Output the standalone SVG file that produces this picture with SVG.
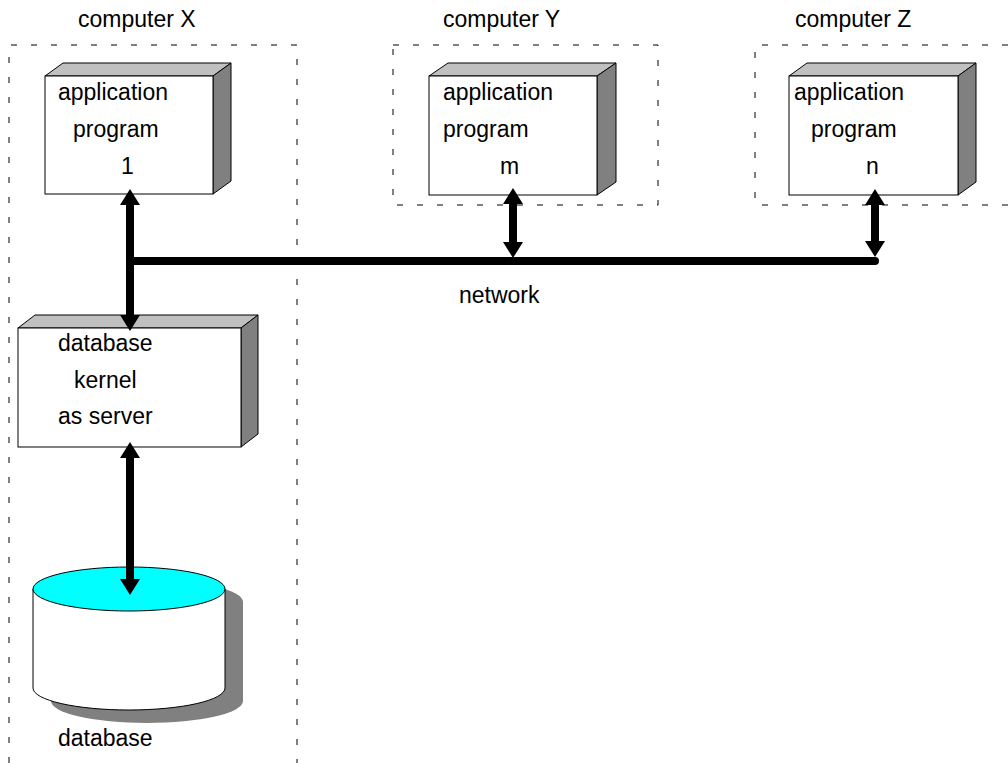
<svg xmlns="http://www.w3.org/2000/svg" width="1008" height="763" viewBox="0 0 1008 763">
<style>
text{font-family:"Liberation Sans",Arial,sans-serif;font-size:23px;fill:#000}
.dash{fill:none;stroke:#000;stroke-width:1;stroke-dasharray:6 14}
.front{fill:#fff;stroke:#000;stroke-width:1}
.top{fill:#c0c0c0;stroke:#000;stroke-width:1;stroke-linejoin:round}
.side{fill:#808080;stroke:#000;stroke-width:1;stroke-linejoin:round}
.conn{stroke:#000;stroke-width:8;fill:none}
</style>
<defs>
<marker id="ah" viewBox="0 0 16 20" refX="4" refY="10" markerWidth="16" markerHeight="20" markerUnits="userSpaceOnUse" orient="auto-start-reverse">
<path d="M0,0 L16,10 L0,20 Z" fill="#000"/>
</marker>
</defs>
<rect width="1008" height="763" fill="#fff"/>

<g id="computerX">
<path class="dash" d="M9,763 L9,45 L297,45 L297,763"/>
<text x="78" y="27">computer X</text>
</g>
<g id="computerY">
<rect class="dash" x="393" y="45" width="265" height="160"/>
<text x="443" y="27">computer Y</text>
</g>
<g id="computerZ">
<path class="dash" d="M1008,45 L755,45 L755,205 L1008,205"/>
<text x="795" y="27">computer Z</text>
</g>

<g id="app1">
<polygon class="top" points="45,76 63,63 231,63 213,76"/>
<polygon class="side" points="213,76 231,63 231,181 213,194"/>
<rect class="front" x="45" y="76" width="168" height="118"/>
<text x="58" y="100">application</text>
<text x="73" y="137">program</text>
<text x="121" y="174">1</text>
</g>

<g id="appm">
<polygon class="top" points="429,76 448,63 616,63 597,76"/>
<polygon class="side" points="597,76 616,63 616,182 597,195"/>
<rect class="front" x="429" y="76" width="168" height="119"/>
<text x="443" y="100">application</text>
<text x="443" y="137">program</text>
<text x="500" y="174">m</text>
</g>

<g id="appn">
<polygon class="top" points="789,76 807,63 976,63 958,76"/>
<polygon class="side" points="958,76 976,63 976,182 958,195"/>
<rect class="front" x="789" y="76" width="169" height="119"/>
<text x="794" y="100">application</text>
<text x="811" y="137">program</text>
<text x="866" y="174">n</text>
</g>

<g id="kernel">
<polygon class="top" points="18,328 35,315 258,315 241,328"/>
<polygon class="side" points="241,328 258,315 258,434 241,447"/>
<rect class="front" x="18" y="328" width="223" height="119"/>
<text x="58" y="351">database</text>
<text x="74" y="388">kernel</text>
<text x="58" y="424">as server</text>
</g>

<g id="database">
<path d="M51,602 L51,701 A96,22 0 0 0 243,701 L243,602 A96,22 0 0 0 51,602 Z" fill="#808080"/>
<path d="M33,589 L33,688 A96,22 0 0 0 225,688 L225,589 Z" fill="#fff" stroke="#000" stroke-width="1"/>
<ellipse cx="129" cy="589" rx="96" ry="22" fill="#00ffff" stroke="#000" stroke-width="1"/>
<text x="58" y="746">database</text>
</g>

<g id="connectors">
<line class="conn" x1="130" y1="261" x2="875" y2="261" stroke-linecap="round"/>
<line class="conn" x1="130" y1="201" x2="130" y2="319" marker-start="url(#ah)" marker-end="url(#ah)"/>
<line class="conn" x1="513" y1="200" x2="513" y2="246" marker-start="url(#ah)" marker-end="url(#ah)"/>
<line class="conn" x1="875" y1="201" x2="875" y2="245" marker-start="url(#ah)" marker-end="url(#ah)"/>
<line class="conn" x1="130" y1="454" x2="130" y2="583" marker-start="url(#ah)" marker-end="url(#ah)"/>
<text x="459" y="303">network</text>
</g>
</svg>
